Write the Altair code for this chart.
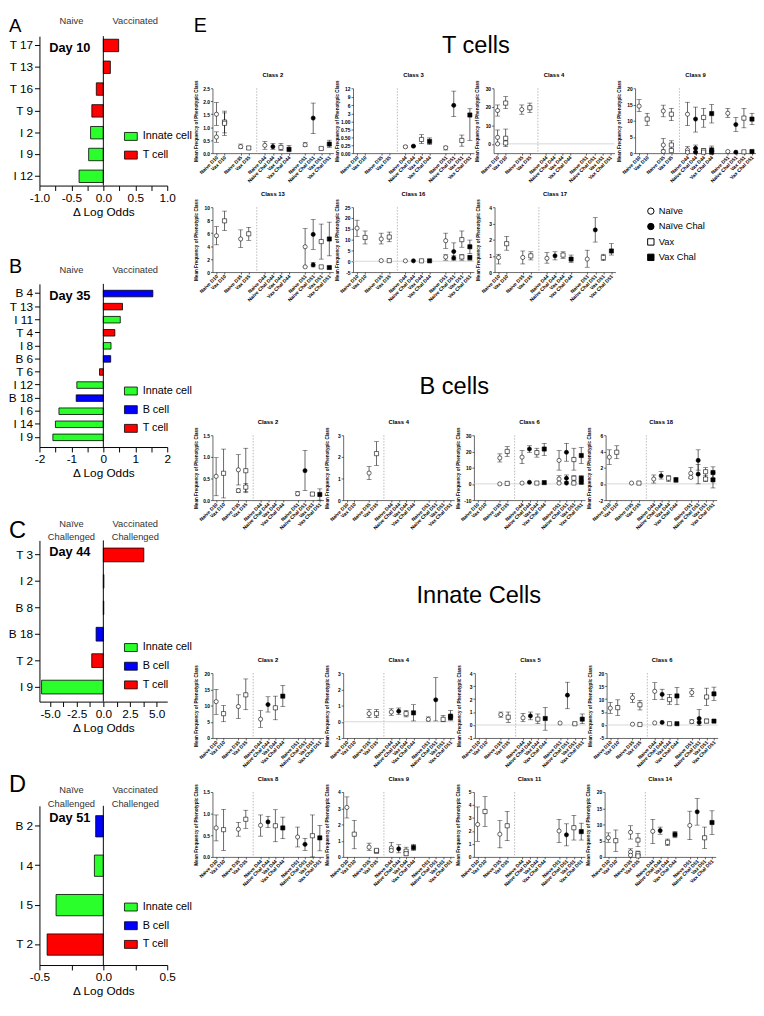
import altair as alt
import math
import pandas as pd

FONT = "Liberation Sans"

# ---------------- Panels A-D : delta log odds ----------------
A_LABELS = ["T 17", "T 13", "T 16", "T 9", "I 2", "I 9", "I 12"]
A_VALUES = [0.24, 0.11, -0.11, -0.18, -0.20, -0.23, -0.38]
A_TYPES = ["T cell", "T cell", "T cell", "T cell", "Innate cell", "Innate cell", "Innate cell"]

B_LABELS = ["B 4", "T 13", "I 11", "T 4", "I 8", "B 6", "T 6", "I 12", "B 18", "I 6", "I 14", "I 9"]
B_VALUES = [1.55, 0.60, 0.53, 0.36, 0.24, 0.23, -0.12, -0.83, -0.85, -1.39, -1.50, -1.58]
B_TYPES = ["B cell", "T cell", "Innate cell", "T cell", "Innate cell", "B cell", "T cell",
           "Innate cell", "B cell", "Innate cell", "Innate cell", "Innate cell"]

C_LABELS = ["T 3", "I 2", "B 8", "B 18", "T 2", "I 9"]
C_VALUES = [3.8, 0.05, 0.04, -0.68, -1.09, -5.8]
C_TYPES = ["T cell", "Innate cell", "B cell", "B cell", "T cell", "Innate cell"]

D_LABELS = ["B 2", "I 4", "I 5", "T 2"]
D_VALUES = [-0.06, -0.07, -0.37, -0.44]
D_TYPES = ["B cell", "Innate cell", "Innate cell", "T cell"]

CELL_TYPES = ["Innate cell", "B cell", "T cell"]
CELL_COLORS = ["#2bff2b", "#0000ff", "#ff0000"]

PANEL_LETTERS = ["A", "B", "C", "D", "E"]
DAYS = ["Day 10", "Day 35", "Day 44", "Day 51"]
HEADERS_LEFT = ["Naive", "Naive", "Naïve\nChallenged", "Naïve\nChallenged"]
HEADERS_RIGHT = ["Vaccinated", "Vaccinated", "Vaccinated\nChallenged", "Vaccinated\nChallenged"]
X_TITLE = "Δ Log Odds"

# ---------------- Panel E : mean frequency of phenotypic class ----------------
E_GROUPS = [["Naive D10", "Vax D10"], ["Naive D35", "Vax D35"],
            ["Naive D44", "Naive Chal D44", "Vax D44", "Vax Chal D44"],
            ["Naive D51", "Naive Chal D51", "Vax D51", "Vax Chal D51"]]
KINDS = ["Naïve", "Naïve Chal", "Vax", "Vax Chal"]
KIND_FILLS = ["white", "black", "white", "black"]
KIND_SHAPES = ["circle", "circle", "square", "square"]
Y_TITLE = "Mean Frequency of Phenotypic Class"
SECTION_TITLES = ["T cells", "B cells", "Innate Cells"]

# (category, mean, error low, error high)
T_C2 = [("Naive D10", 1.50, 1.07, 1.95), ("Naive D10", 0.62, 0.42, 0.82),
        ("Vax D10", 1.20, 0.78, 1.62), ("Vax D10", 1.15, 0.68, 1.55),
        ("Naive D35", 0.25, 0.18, 0.35), ("Vax D35", 0.20, 0.15, 0.25),
        ("Naive D44", 0.30, 0.15, 0.45), ("Naive Chal D44", 0.25, 0.15, 0.38),
        ("Vax D44", 0.22, 0.10, 0.38), ("Vax Chal D44", 0.15, 0.05, 0.30),
        ("Naive D51", 0.32, 0.25, 0.40), ("Naive Chal D51", 1.35, 0.75, 1.93),
        ("Vax D51", 0.18, 0.14, 0.22), ("Vax Chal D51", 0.35, 0.22, 0.50)]
T_C3 = [("Naive D44", 0.20, 0.17, 0.23), ("Naive Chal D44", 0.22, 0.20, 0.24),
        ("Vax D44", 0.43, 0.30, 0.58), ("Vax Chal D44", 0.37, 0.27, 0.48),
        ("Naive D51", 0.17, 0.10, 0.22), ("Naive Chal D51", 6.0, 2.0, 11.0),
        ("Vax D51", 0.40, 0.22, 0.57), ("Vax Chal D51", 2.6, 0.40, 4.8)]
T_C4 = [("Naive D10", 18.0, 15.0, 21.0), ("Naive D10", 3.5, 0.0, 7.5), ("Naive D10", 0.0, None, None),
        ("Vax D10", 22.0, 19.0, 25.5), ("Vax D10", 3.0, -1.5, 8.0), ("Vax D10", 0.5, None, None),
        ("Naive D35", 18.5, 16.0, 21.0), ("Vax D35", 19.5, 17.0, 22.0)]
T_C9 = [("Naive D10", 14.5, 12.8, 16.5), ("Vax D10", 10.5, 8.5, 12.3),
        ("Naive D35", 13.0, 11.2, 14.8), ("Naive D35", 2.5, 1.0, 4.5), ("Naive D35", 0.5, None, None),
        ("Vax D35", 12.0, 10.0, 13.8), ("Vax D35", 2.5, 1.2, 3.8), ("Vax D35", 0.8, None, None),
        ("Naive D44", 12.0, 8.5, 15.7), ("Naive D44", 1.0, 0.0, 2.0), ("Naive D44", 0.3, None, None),
        ("Naive Chal D44", 10.5, 6.5, 14.2), ("Naive Chal D44", 1.5, 0.5, 2.5), ("Naive Chal D44", 0.3, None, None),
        ("Vax D44", 11.0, 8.0, 13.8), ("Vax D44", 0.8, 0.0, 1.5), ("Vax D44", 0.3, None, None),
        ("Vax Chal D44", 12.2, 9.3, 15.0), ("Vax Chal D44", 1.0, 0.0, 2.2), ("Vax Chal D44", 0.3, None, None),
        ("Naive D51", 12.3, 11.0, 13.8), ("Naive D51", 0.5, None, None),
        ("Naive Chal D51", 8.8, 6.7, 11.0), ("Naive Chal D51", 0.3, None, None),
        ("Vax D51", 10.8, 7.8, 13.8), ("Vax D51", 0.4, None, None),
        ("Vax Chal D51", 10.5, 8.8, 12.3), ("Vax Chal D51", 0.5, None, None)]
T_C13 = [("Naive D10", 5.6, 4.2, 7.0), ("Vax D10", 7.9, 6.4, 9.4),
         ("Naive D35", 5.1, 3.8, 6.5), ("Vax D35", 5.9, 4.9, 6.9),
         ("Naive D51", 3.9, 0.8, 6.7), ("Naive D51", 0.8, None, None),
         ("Naive Chal D51", 5.8, 3.5, 8.1), ("Naive Chal D51", 1.1, 0.8, 1.5),
         ("Vax D51", 4.7, 2.0, 7.4), ("Vax D51", 0.8, None, None),
         ("Vax Chal D51", 5.1, 2.5, 7.7), ("Vax Chal D51", 0.7, 0.5, 0.9)]
T_C16 = [("Naive D10", 15.3, 11.5, 19.0), ("Vax D10", 11.0, 8.0, 14.0),
         ("Naive D35", 10.3, 8.0, 13.0), ("Naive D35", 0.3, None, None),
         ("Vax D35", 11.2, 9.0, 13.5), ("Vax D35", 0.3, None, None),
         ("Naive D44", 0.2, None, None), ("Naive Chal D44", 0.2, None, None),
         ("Vax D44", 0.2, None, None), ("Vax Chal D44", 0.2, None, None),
         ("Naive D51", 9.5, 6.0, 13.0), ("Naive D51", 2.0, 0.5, 3.0),
         ("Naive Chal D51", 4.5, 1.0, 8.5), ("Naive Chal D51", 1.5, 0.5, 2.5),
         ("Vax D51", 10.0, 6.5, 14.0), ("Vax D51", 2.0, 0.5, 3.0),
         ("Vax Chal D51", 6.7, 3.5, 9.8), ("Vax Chal D51", 1.7, 0.5, 2.8)]
T_C17 = [("Naive D10", 0.90, 0.50, 1.10), ("Vax D10", 1.75, 1.35, 2.20),
         ("Naive D35", 0.90, 0.50, 1.30), ("Vax D35", 1.00, 0.75, 1.25),
         ("Naive D44", 0.85, 0.55, 1.20), ("Naive Chal D44", 1.00, 0.75, 1.25),
         ("Vax D44", 1.05, 0.85, 1.25), ("Vax Chal D44", 0.80, 0.60, 1.05),
         ("Naive D51", 0.80, 0.30, 1.35), ("Naive Chal D51", 2.60, 1.85, 3.35),
         ("Vax D51", 0.90, 0.70, 1.10), ("Vax Chal D51", 1.30, 1.05, 1.75)]

B_C2 = [("Naive D10", 0.55, 0.10, 0.98), ("Vax D10", 0.62, 0.05, 1.18),
        ("Naive D35", 0.70, 0.35, 1.05), ("Naive D35", 0.22, 0.18, 0.26),
        ("Vax D35", 0.68, 0.17, 1.20), ("Vax D35", 0.30, 0.20, 0.38),
        ("Naive D51", 0.15, 0.10, 0.20), ("Naive Chal D51", 0.68, 0.22, 1.15),
        ("Vax D51", 0.14, 0.10, 0.17), ("Vax Chal D51", 0.13, 0.00, 0.26)]
B_C4 = [("Naive D35", 1.25, 0.95, 1.55), ("Vax D35", 2.15, 1.60, 2.70)]
B_C6 = [("Naive D35", 16.0, 13.5, 18.5), ("Naive D35", 0.0, None, None),
        ("Vax D35", 20.0, 17.0, 23.0), ("Vax D35", 0.3, None, None),
        ("Naive D44", 16.5, 12.5, 20.5), ("Naive D44", 0.5, None, None),
        ("Naive Chal D44", 21.5, 19.5, 23.5), ("Naive Chal D44", 1.0, None, None),
        ("Vax D44", 19.3, 16.5, 22.0), ("Vax D44", 0.5, None, None),
        ("Vax Chal D44", 21.5, 17.5, 25.0), ("Vax Chal D44", 0.8, None, None),
        ("Naive D51", 14.5, 8.5, 20.5), ("Naive D51", 3.0, 1.0, 5.0), ("Naive D51", 0.5, None, None),
        ("Naive Chal D51", 19.5, 14.0, 25.0), ("Naive Chal D51", 3.5, 1.5, 5.5), ("Naive Chal D51", 0.5, None, None),
        ("Vax D51", 15.0, 8.5, 22.0), ("Vax D51", 3.5, 1.0, 5.0), ("Vax D51", 0.5, None, None),
        ("Vax Chal D51", 17.5, 12.5, 22.5), ("Vax Chal D51", 3.5, 1.5, 5.0), ("Vax Chal D51", 1.0, None, None)]
B_C18 = [("Naive D10", 3.3, 2.4, 4.2), ("Vax D10", 3.9, 3.1, 4.7),
         ("Naive D35", 0.1, None, None), ("Vax D35", 0.1, None, None),
         ("Naive D44", 0.6, 0.1, 1.1), ("Naive Chal D44", 1.0, 0.6, 1.5),
         ("Vax D44", 0.7, 0.3, 1.0), ("Vax Chal D44", 0.5, 0.2, 0.8),
         ("Naive D51", 1.3, 0.7, 2.0), ("Naive D51", 0.8, None, None),
         ("Naive Chal D51", 2.9, 1.7, 4.2), ("Naive Chal D51", 1.2, 0.0, 2.4),
         ("Vax D51", 1.5, 0.8, 2.0), ("Vax D51", 0.6, 0.3, 1.0),
         ("Vax Chal D51", 1.4, 0.7, 2.1), ("Vax Chal D51", 0.5, -0.5, 1.4)]

I_C2 = [("Naive D10", 11.2, 7.3, 15.0), ("Vax D10", 7.5, 5.0, 10.0),
        ("Naive D35", 9.7, 6.0, 13.3), ("Vax D35", 13.3, 8.7, 18.2),
        ("Naive D44", 5.8, 3.3, 8.4), ("Naive Chal D44", 10.3, 8.0, 12.7),
        ("Vax D44", 9.3, 5.6, 12.9), ("Vax Chal D44", 12.9, 9.7, 16.2)]
I_C4 = [("Naive D35", 0.50, 0.25, 0.75), ("Vax D35", 0.50, 0.25, 0.75),
        ("Naive D44", 0.60, 0.40, 0.80), ("Naive Chal D44", 0.65, 0.45, 0.85),
        ("Vax D44", 0.50, 0.30, 0.70), ("Vax Chal D44", 0.55, 0.05, 1.05),
        ("Naive D51", 0.15, 0.05, 0.30), ("Naive Chal D51", 1.35, 0.05, 2.72),
        ("Vax D51", 0.15, 0.00, 0.40), ("Vax Chal D51", 0.35, 0.10, 0.70),
        ("Vax Chal D51", 0.25, None, None)]
I_C5 = [("Naive D35", 0.80, 0.60, 1.00), ("Vax D35", 0.60, 0.20, 1.00),
        ("Naive D44", 0.55, 0.25, 0.90), ("Naive Chal D44", 0.70, 0.40, 1.00),
        ("Vax D44", 0.45, 0.10, 0.85), ("Vax Chal D44", 0.50, -0.40, 1.35),
        ("Naive D51", 0.15, None, None), ("Naive Chal D51", 2.30, 1.25, 3.30),
        ("Vax D51", 0.10, 0.05, 0.15), ("Vax Chal D51", 0.45, 0.10, 0.85)]
I_C6 = [("Naive D10", 6.5, 4.5, 8.7), ("Vax D10", 6.7, 3.7, 9.7),
        ("Naive D35", 10.5, 8.7, 12.2), ("Naive D35", 0.3, None, None),
        ("Vax D35", 7.8, 5.8, 9.5), ("Vax D35", 0.2, None, None),
        ("Naive D44", 13.0, 9.8, 16.3), ("Naive D44", 0.8, None, None),
        ("Naive Chal D44", 11.8, 9.8, 13.8), ("Naive Chal D44", 1.0, None, None),
        ("Vax D44", 9.8, 8.0, 11.8), ("Vax D44", 0.5, None, None),
        ("Vax Chal D44", 11.2, 7.8, 14.5), ("Vax Chal D44", 0.5, None, None),
        ("Naive D51", 12.5, 11.0, 14.0), ("Naive D51", 1.3, 0.5, 2.0),
        ("Naive Chal D51", 2.5, -0.2, 6.0), ("Naive Chal D51", 1.0, None, None),
        ("Vax D51", 10.8, 7.5, 14.2), ("Vax D51", 1.5, 0.8, 2.3),
        ("Vax Chal D51", 12.0, 9.5, 14.6), ("Vax Chal D51", 1.5, None, None)]
I_C8 = [("Naive D10", 0.67, 0.37, 0.97), ("Vax D10", 0.63, 0.15, 1.10),
        ("Naive D35", 0.64, 0.48, 0.80), ("Vax D35", 0.87, 0.66, 1.08),
        ("Naive D44", 0.73, 0.48, 0.97), ("Naive Chal D44", 0.81, 0.68, 0.94),
        ("Vax D44", 0.72, 0.35, 1.09), ("Vax Chal D44", 0.67, 0.42, 0.92),
        ("Naive D51", 0.46, 0.23, 0.69), ("Naive Chal D51", 0.29, 0.15, 0.43),
        ("Vax D51", 0.49, 0.00, 0.97), ("Vax Chal D51", 0.44, 0.14, 0.73)]
I_C9 = [("Naive D10", 3.05, 2.40, 3.70), ("Vax D10", 1.40, 0.50, 2.25),
        ("Naive D35", 0.60, 0.40, 0.85), ("Vax D35", 0.35, 0.25, 0.45), ("Vax D35", 0.40, None, None),
        ("Naive D44", 0.55, 0.30, 0.90), ("Naive D44", 0.40, None, None),
        ("Naive Chal D44", 0.50, 0.25, 0.75), ("Vax D44", 0.35, 0.10, 0.60),
        ("Vax D44", 0.20, None, None), ("Vax Chal D44", 0.58, 0.40, 0.78)]
I_C11 = [("Naive D10", 2.50, 1.20, 3.85), ("Vax D10", 3.50, 2.35, 4.65),
         ("Naive D35", 1.75, 0.70, 2.80), ("Vax D35", 2.40, 1.25, 3.50),
         ("Naive D51", 2.00, 1.10, 2.90), ("Naive Chal D51", 1.70, 0.85, 2.55),
         ("Vax D51", 2.25, 1.30, 3.20), ("Vax Chal D51", 1.95, 1.30, 2.60)]
I_C14 = [("Naive D10", 5.9, 4.5, 7.4), ("Vax D10", 5.0, 1.7, 8.3),
         ("Naive D35", 7.6, 5.5, 9.6), ("Naive D35", 1.5, 0.5, 2.5), ("Naive D35", 0.5, None, None),
         ("Vax D35", 5.2, 3.2, 7.2), ("Vax D35", 1.0, 0.3, 1.8), ("Vax D35", 0.3, None, None),
         ("Naive D44", 7.9, 4.1, 11.6), ("Naive Chal D44", 8.1, 7.0, 9.2),
         ("Vax D44", 4.5, 3.5, 5.5), ("Vax Chal D44", 6.9, 5.9, 7.9),
         ("Naive D51", 9.7, 5.3, 14.1), ("Naive Chal D51", 13.9, 9.8, 18.0),
         ("Vax D51", 5.9, 2.6, 9.2), ("Vax Chal D51", 10.6, 6.9, 14.2)]

# ---------------- helpers ----------------
MINUS = "\u2212"


def fix_minus(expr):
    return "replace(%s, '%s', '-')" % (expr, MINUS)


def txt_df(t):
    return pd.DataFrame({"t": [t]})


def bar_chart(i, labels, values, types, half, tick_step, label_step, fmt, height,
              pad_in, pad_out, header_y, letter_y, letter_size, legend_y):
    df = pd.DataFrame({"label": labels, "value": values, "type": types})
    present = [t for t in CELL_TYPES if t in types]
    colors = [CELL_COLORS[CELL_TYPES.index(t)] for t in present]
    m = int(math.floor(half / tick_step + 1e-9))
    ticks = [round(k * tick_step, 6) for k in range(-m, m + 1)]
    lab = ("abs(datum.value / %s - round(datum.value / %s)) < 0.001 ? %s : ''"
           % (label_step, label_step, fix_minus("format(datum.value, '%s')" % fmt)))
    x = alt.X("value:Q", scale=alt.Scale(domain=[-half, half], nice=False, zero=False),
              axis=alt.Axis(values=ticks, labelExpr=lab, title=X_TITLE, titleFontSize=12,
                            titleFontWeight="normal", labelFontSize=12, tickSize=5,
                            labelPadding=2, titlePadding=3, domainColor="black",
                            tickColor="black", labelColor="black", titleColor="black",
                            grid=False, labelFlush=False, labelOverlap=False))
    y = alt.Y("label:N", sort=labels,
              scale=alt.Scale(paddingInner=pad_in, paddingOuter=pad_out),
              axis=alt.Axis(title=None, labelFontSize=12, tickSize=5, labelPadding=2,
                            domainColor="black", tickColor="black", labelColor="black",
                            grid=False))
    bars = alt.Chart(df).mark_bar(stroke="black", strokeWidth=0.8).encode(
        x=x, y=y,
        color=alt.Color("type:N", scale=alt.Scale(domain=present, range=colors),
                        legend=alt.Legend(orient="none", legendX=86, legendY=legend_y,
                                          title=None, symbolType="M-1,-0.62L1,-0.62L1,0.62L-1,0.62Z",
                                          symbolSize=170, symbolStrokeColor="black",
                                          symbolStrokeWidth=0.8, symbolOpacity=1,
                                          labelFontSize=11, labelOffset=5, rowPadding=6,
                                          padding=0, labelColor="black", labelLimit=200)))
    zero = alt.Chart(pd.DataFrame({"value": [0.0]})).mark_rule(
        color="black", strokeWidth=1).encode(x=x)
    hdr = alt.Chart(pd.DataFrame({"value": [-half / 2, half / 2],
                                  "t": [HEADERS_LEFT[i], HEADERS_RIGHT[i]]})).mark_text(
        fontSize=9.5, color="#333333", lineBreak="\n", lineHeight=14, baseline="bottom",
        align="center").encode(x=x, y=alt.value(header_y), text="t:N")
    day = alt.Chart(txt_df(DAYS[i])).mark_text(
        fontSize=13, fontWeight="bold", align="left", baseline="middle").encode(
        x=alt.value(10), y=alt.value(12), text="t:N")
    let = alt.Chart(txt_df(PANEL_LETTERS[i])).mark_text(
        fontSize=letter_size, align="left", baseline="top").encode(
        x=alt.value(-31), y=alt.value(letter_y), text="t:N")
    return alt.layer(bars, zero, hdr, day, let).properties(width=130, height=height)


SLOTS = []
for gi, grp in enumerate(E_GROUPS):
    if gi:
        SLOTS.append("")
    SLOTS.extend(grp)
POS = {c: k for k, c in enumerate(SLOTS) if c}
DIVIDER = (POS["Vax D35"] + POS["Naive D44"]) / 2
X_LABEL_EXPR = "[" + ",".join("'%s'" % s for s in SLOTS) + "][round(datum.value)]"

BRK_BASE = 1.237
BRK_K = 0.0896


def brk(v):
    return BRK_BASE + (v - 3) * BRK_K


def brk_expr(f):
    return ("datum.%s == null ? null : (datum.%s <= 1 ? datum.%s : %s + (datum.%s - 3) * %s)"
            % (f, f, f, BRK_BASE, f, BRK_K))


def kind_of(cat):
    naive = cat.startswith("Naive")
    chal = "Chal" in cat
    return KINDS[(0 if naive else 2) + (1 if chal else 0)]


def e_panel(title, rows, dmin, dmax, tmin, step, fmt, width, height=66, broken=False):
    df = pd.DataFrame(rows, columns=["cat", "v", "lo", "hi"])
    df["pos"] = [POS[c] for c in df["cat"]]
    df["kind"] = [kind_of(c) for c in df["cat"]]
    if broken:
        calc = {"yv": brk_expr("v"), "ylo": brk_expr("lo"), "yhi": brk_expr("hi")}
        ticks = [0, 0.25, 0.5, 0.75, 1.0] + [round(brk(v), 4) for v in (3, 6, 9, 12)]
        ylab = ("datum.value <= 1.0001 ? format(datum.value, '.2f') : "
                "format((datum.value - %s) / %s + 3, '.0f')" % (BRK_BASE, BRK_K))
        dom = [0, brk(12)]
    else:
        calc = {"yv": "datum.v", "ylo": "datum.lo", "yhi": "datum.hi"}
        n = int(round((dmax - tmin) / step))
        ticks = [round(tmin + k * step, 6) for k in range(n + 1)]
        ylab = fix_minus("format(datum.value, '%s')" % fmt)
        dom = [dmin, dmax]
    X = alt.X("pos:Q", scale=alt.Scale(domain=[-0.5, len(SLOTS) - 0.5], nice=False, zero=False),
              axis=alt.Axis(values=[POS[c] for c in SLOTS if c], labelExpr=X_LABEL_EXPR,
                            title=None, labelAngle=-45, labelAlign="right",
                            labelBaseline="middle", labelFontSize=5, labelFontWeight="bold",
                            labelPadding=1, tickSize=2, tickWidth=0.6, domainWidth=0.6,
                            domainColor="black", tickColor="black", labelColor="black",
                            grid=False, labelOverlap=False, labelFlush=False))
    ys = alt.Scale(domain=dom, nice=False, zero=False)
    ya = alt.Axis(values=ticks, labelExpr=ylab, title=Y_TITLE, titleFontSize=4.7,
                  titleFontWeight="bold", titlePadding=1, labelFontSize=5,
                  labelFontWeight="bold", labelPadding=1, tickSize=2, tickWidth=0.6,
                  domainWidth=0.6, domainColor="black", tickColor="black",
                  labelColor="black", titleColor="black", grid=False, minExtent=13,
                  maxExtent=13, labelOverlap=False, labelFlush=False)

    def Y(f):
        return alt.Y(f + ":Q", scale=ys, axis=ya)

    base = alt.Chart(df).transform_calculate(**calc)
    err = base.transform_filter("datum.lo != null")
    layers = [alt.Chart(pd.DataFrame({"pos": [DIVIDER]})).mark_rule(
        color="#9a9a9a", strokeWidth=0.7, strokeDash=[1.5, 1.5]).encode(x=X)]
    if dmin < 0:
        layers.append(alt.Chart(pd.DataFrame({"yv": [0.0]})).mark_rule(
            color="#c4c4c4", strokeWidth=0.7).encode(y=Y("yv")))
    layers.append(err.mark_rule(color="black", strokeWidth=0.6).encode(
        x=X, y=Y("ylo"), y2="yhi:Q"))
    layers.append(err.mark_tick(orient="horizontal", size=5, thickness=0.6,
                                color="black").encode(x=X, y=Y("ylo")))
    layers.append(err.mark_tick(orient="horizontal", size=5, thickness=0.6,
                                color="black").encode(x=X, y=Y("yhi")))
    layers.append(base.mark_point(filled=True, size=18, stroke="black", strokeWidth=0.6,
                                  opacity=1).encode(
        x=X, y=Y("yv"),
        fill=alt.Fill("kind:N", scale=alt.Scale(domain=KINDS, range=KIND_FILLS), legend=None),
        shape=alt.Shape("kind:N", scale=alt.Scale(domain=KINDS, range=KIND_SHAPES), legend=None)))
    return alt.layer(*layers).properties(
        width=width, height=height,
        title=alt.TitleParams(text=title, fontSize=6, fontWeight="bold", offset=2))


def title_view(text, cx, cy, height, letter=None):
    layers = [alt.Chart(txt_df(text)).mark_text(fontSize=24, align="center",
                                                 baseline="middle").encode(
        x=alt.value(cx), y=alt.value(cy), text="t:N")]
    if letter:
        layers.append(alt.Chart(txt_df(letter)).mark_text(
            fontSize=20, align="left", baseline="top").encode(
            x=alt.value(-19), y=alt.value(-20), text="t:N"))
    return alt.layer(*layers).properties(width=530, height=height)


def legend_view():
    ldf = pd.DataFrame({"kind": KINDS})
    lb = alt.Chart(ldf).encode(y=alt.Y("kind:N", sort=KINDS, axis=None,
                                       scale=alt.Scale(range=[4, 51], padding=0)))
    pts = lb.mark_point(filled=True, size=42, stroke="black", strokeWidth=1, opacity=1).encode(
        x=alt.value(36),
        fill=alt.Fill("kind:N", scale=alt.Scale(domain=KINDS, range=KIND_FILLS), legend=None),
        shape=alt.Shape("kind:N", scale=alt.Scale(domain=KINDS, range=KIND_SHAPES), legend=None))
    lab = lb.mark_text(align="left", baseline="middle", fontSize=9.5).encode(
        x=alt.value(44), text="kind:N")
    return alt.layer(pts, lab).properties(width=100, height=54)


# ---------------- assemble ----------------
pA = bar_chart(0, A_LABELS, A_VALUES, A_TYPES, 1.0, 0.25, 0.5, ".1f", 152, 0.43, 0.14,
               -10, -19, 19, 95)
pB = bar_chart(1, B_LABELS, B_VALUES, B_TYPES, 2.0, 0.5, 1, "d", 166, 0.5, 0.49,
               -9, -27, 20, 102)
pC = bar_chart(2, C_LABELS, C_VALUES, C_TYPES, 6.0, 1.25, 2.5, ".1f", 164, 0.48, 0.29,
               -12, -21, 24, 102)
pD = bar_chart(3, D_LABELS, D_VALUES, D_TYPES, 0.5, 0.25, 0.5, ".1f", 162, 0.46, 0.25,
               -11, -33, 24, 96)

left = alt.vconcat(pA, pB, pC, pD, spacing=41).resolve_scale(
    color="independent", x="independent", y="independent").resolve_legend(color="independent")

WT = 123
WB = 113
t_row1 = alt.hconcat(
    e_panel("Class 2", T_C2, 0, 2.5, 0, 0.5, ".1f", WT),
    e_panel("Class 3", T_C3, 0, 0, 0, 1, "d", WT, broken=True),
    e_panel("Class 4", T_C4, -5, 30, 0, 10, "d", WT),
    e_panel("Class 9", T_C9, 0, 20, 0, 5, "d", WT),
    spacing=0).resolve_scale(x="independent", y="independent")
t_row2 = alt.hconcat(
    e_panel("Class 13", T_C13, 0, 10, 0, 2, "d", WT),
    e_panel("Class 16", T_C16, -5, 25, -5, 5, "d", WT),
    e_panel("Class 17", T_C17, 0, 4, 0, 1, "d", WT),
    legend_view(),
    spacing=0).resolve_scale(x="independent", y="independent")
b_row = alt.hconcat(
    e_panel("Class 2", B_C2, 0, 1.5, 0, 0.5, ".1f", WB),
    e_panel("Class 4", B_C4, 0, 3, 0, 1, "d", WB),
    e_panel("Class 6", B_C6, -10, 30, -10, 10, "d", WB),
    e_panel("Class 18", B_C18, -2, 6, -2, 2, "d", WB),
    spacing=0).resolve_scale(x="independent", y="independent")
i_row1 = alt.hconcat(
    e_panel("Class 2", I_C2, 0, 20, 0, 5, "d", WB),
    e_panel("Class 4", I_C4, -1, 3, -1, 1, "d", WB),
    e_panel("Class 5", I_C5, -1, 4, -1, 1, "d", WB),
    e_panel("Class 6", I_C6, -5, 20, -5, 5, "d", WB),
    spacing=0).resolve_scale(x="independent", y="independent")
i_row2 = alt.hconcat(
    e_panel("Class 8", I_C8, 0, 1.5, 0, 0.5, ".1f", WB),
    e_panel("Class 9", I_C9, 0, 4, 0, 1, "d", WB),
    e_panel("Class 11", I_C11, 0, 5, 0, 1, "d", WB),
    e_panel("Class 14", I_C14, 0, 20, 0, 5, "d", WB),
    spacing=0).resolve_scale(x="independent", y="independent")

right = alt.vconcat(
    title_view(SECTION_TITLES[0], 268, 10, 29, letter=PANEL_LETTERS[4]),
    t_row1, t_row2,
    title_view(SECTION_TITLES[1], 246, 79, 104),
    b_row,
    title_view(SECTION_TITLES[2], 271, 60, 114),
    i_row1, i_row2,
    spacing=7).resolve_scale(x="independent", y="independent")

chart = alt.hconcat(left, right, spacing=0).resolve_scale(
    color="independent", x="independent", y="independent").properties(
    padding={"left": 0, "top": 0, "right": 0, "bottom": 0}
).configure_view(stroke=None).configure_axis(
    labelFont=FONT, titleFont=FONT).configure_text(font=FONT).configure_title(
    font=FONT).configure_legend(labelFont=FONT)

chart.save("out.html", embed_options={"renderer": "svg", "actions": False})
